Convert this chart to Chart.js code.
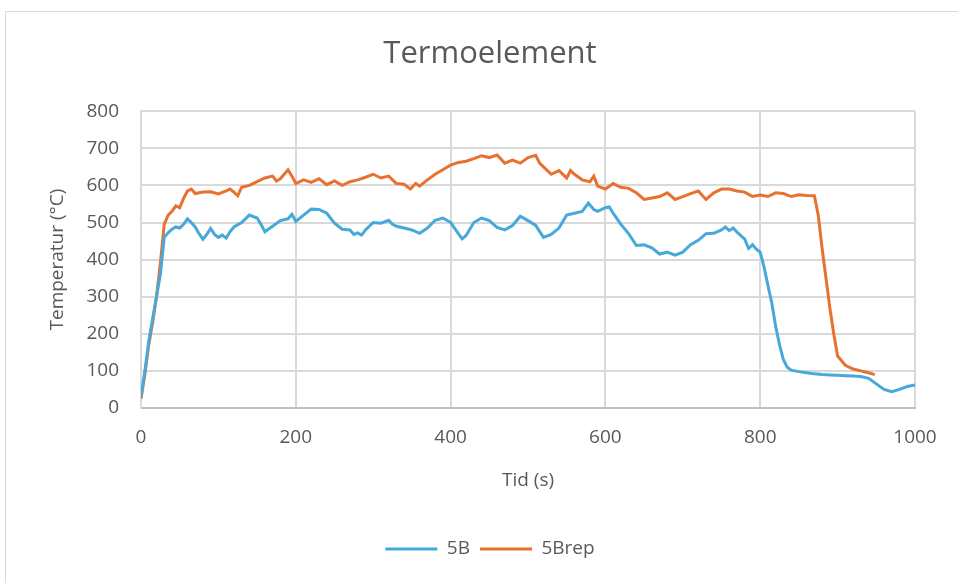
<!DOCTYPE html>
<html>
<head>
<meta charset="utf-8">
<title>Termoelement</title>
<script src="https://cdn.jsdelivr.net/npm/chart.js@4"></script>
<style>
    html, body { margin: 0; padding: 0; background: #fff; overflow: hidden; }
    .chart-frame {
        position: absolute; left: 5px; top: 11px; width: 1100px; height: 700px;
        border: 1.5px solid #d9d9d9; box-sizing: border-box;
    }
    .chart-wrap { position: absolute; left: 0; top: 0; width: 958px; height: 583px; }
</style>
</head>
<body>
<div class="chart-frame"></div>
<div class="chart-wrap"><canvas id="thermo-chart" width="958" height="583"></canvas></div>
<script>
// Time (s) and temperature (°C)
const time5B = [0, 5, 10, 15, 20, 25, 30, 35, 40, 45, 50, 55, 60, 65, 70, 75, 80, 85, 90, 95,
    100, 105, 110, 115, 120, 130, 140, 150, 155, 160, 170, 180, 190, 195, 200, 210, 220, 230, 240, 250,
    260, 270, 275, 280, 285, 290, 300, 310, 320, 325, 330, 340, 350, 360, 370, 380, 390, 400, 410, 415,
    420, 430, 440, 450, 460, 470, 480, 490, 500, 510, 520, 530, 540, 550, 560, 570, 578, 585, 590, 600,
    605, 610, 620, 630, 640, 650, 660, 670, 680, 690, 700, 710, 720, 730, 740, 750, 755, 760, 765, 770,
    780, 785, 790, 795, 800, 805, 810, 815, 820, 825, 830, 835, 840, 850, 860, 870, 880, 890, 900, 910,
    920, 930, 940, 950, 960, 970, 980, 990, 1000];
const temp5B = [30, 100, 180, 240, 300, 360, 460, 472, 482, 488, 485, 495, 510, 500, 488, 470, 455, 468, 484, 468,
    460, 466, 458, 475, 488, 500, 520, 512, 495, 475, 490, 505, 510, 522, 503, 520, 536, 535, 525, 498,
    482, 480, 468, 472, 466, 480, 500, 498, 506, 495, 490, 485, 480, 471, 485, 506, 512, 500, 470, 456,
    465, 500, 512, 505, 487, 480, 492, 517, 505, 492, 460, 468, 485, 520, 525, 530, 552, 535, 530, 540,
    542, 525, 495, 470, 438, 440, 432, 415, 420, 412, 420, 440, 452, 470, 471, 480, 488, 478, 485, 474,
    455, 430, 440, 428, 420, 380, 330, 283, 220, 170, 130, 110, 102, 98, 95, 92, 90, 89, 88, 87,
    86, 85, 80, 65, 50, 44, 50, 58, 62];

const time5Brep = [0, 5, 10, 15, 20, 25, 30, 35, 40, 45, 50, 55, 60, 65, 70, 80, 90, 100, 110, 115,
    120, 125, 130, 140, 150, 160, 170, 175, 180, 190, 195, 200, 210, 220, 230, 240, 250, 260, 270, 280,
    290, 300, 310, 320, 330, 340, 348, 355, 360, 370, 380, 390, 400, 410, 420, 430, 440, 450, 460, 470,
    480, 490, 500, 510, 515, 520, 530, 540, 550, 555, 560, 570, 580, 585, 590, 600, 610, 620, 630, 640,
    650, 660, 670, 680, 690, 700, 710, 720, 730, 740, 750, 760, 770, 780, 790, 800, 810, 820, 830, 840,
    850, 860, 870, 875, 880, 885, 890, 895, 900, 910, 920, 930, 940, 948];
const temp5Brep = [25, 90, 170, 230, 300, 390, 495, 520, 530, 545, 540, 565, 585, 590, 578, 582, 583, 577, 585, 590,
    582, 572, 595, 600, 610, 620, 625, 612, 618, 642, 625, 605, 615, 608, 618, 602, 612, 600, 610, 615,
    622, 630, 620, 625, 605, 603, 590, 605, 598, 615, 630, 642, 655, 662, 665, 672, 680, 675, 682, 660,
    668, 660, 675, 681, 660, 650, 630, 640, 620, 640, 630, 615, 610, 625, 598, 590, 605, 595, 592, 580,
    562, 566, 570, 580, 562, 570, 578, 585, 562, 580, 590, 590, 585, 582, 570, 574, 570, 580, 578, 570,
    575, 573, 572, 520, 430, 350, 270, 200, 140, 115, 105, 100, 95, 90];

const seriesLabels = ['5B', '5Brep'];
const xTicks = [0, 200, 400, 600, 800, 1000];
const yTicks = [0, 100, 200, 300, 400, 500, 600, 700, 800];

const textColor = '#595959';
const gridColor = '#d9d9d9';
const fontFamily = '"Open Sans", "Noto Sans", sans-serif';

function toPoints(xs, ys) {
    return xs.map((x, i) => ({ x: x, y: ys[i] }));
}

const ctx = document.getElementById('thermo-chart');

new Chart(ctx, {
    type: 'line',
    data: {
        datasets: [{
            label: seriesLabels[0],
            data: toPoints(time5B, temp5B),
            borderColor: '#47a8da',
            backgroundColor: '#47a8da',
            borderWidth: 3,
            pointRadius: 0,
            tension: 0
        }, {
            label: seriesLabels[1],
            data: toPoints(time5Brep, temp5Brep),
            borderColor: '#e8712f',
            backgroundColor: '#e8712f',
            borderWidth: 3,
            pointRadius: 0,
            tension: 0
        }]
    },
    options: {
        responsive: false,
        animation: false,
        layout: { padding: { left: 65, right: 43, top: 0, bottom: 14.5 } },
        plugins: {
            title: {
                display: true,
                text: 'Termoelement',
                color: textColor,
                font: { family: fontFamily, size: 31, weight: 'normal' },
                padding: { top: 36, bottom: 38 }
            },
            legend: {
                position: 'bottom',
                labels: {
                    usePointStyle: true,
                    pointStyle: 'line',
                    pointStyleWidth: 52,
                    color: textColor,
                    font: { family: fontFamily, size: 19 },
                    padding: 10
                }
            },
            tooltip: { enabled: false }
        },
        scales: {
            x: {
                type: 'linear',
                min: 0,
                max: 1000,
                afterBuildTicks: (scale) => { scale.ticks = xTicks.map(v => ({ value: v })); },
                afterFit: (scale) => { scale.height = 121.5; },
                ticks: {
                    color: textColor,
                    font: { family: fontFamily, size: 19 },
                    padding: 18,
                    maxRotation: 0,
                    callback: (value) => String(value)
                },
                grid: { color: gridColor, lineWidth: 2, drawTicks: false },
                border: { color: '#bfbfbf', width: 2 },
                title: {
                    display: true,
                    text: 'Tid (s)',
                    color: textColor,
                    font: { family: fontFamily, size: 19 },
                    padding: { top: 0, bottom: 38 }
                }
            },
            y: {
                min: 0,
                max: 800,
                afterBuildTicks: (scale) => { scale.ticks = yTicks.map(v => ({ value: v })); },
                afterFit: (scale) => { scale.width = 76; },
                ticks: {
                    color: textColor,
                    font: { family: fontFamily, size: 19 },
                    padding: 22,
                    callback: (value) => String(value)
                },
                grid: { color: gridColor, lineWidth: 2, drawTicks: false },
                border: { color: gridColor, width: 2 },
                title: {
                    display: true,
                    text: 'Temperatur (°C)',
                    color: textColor,
                    font: { family: fontFamily, size: 19 },
                    padding: { top: -18.4, bottom: 0 }
                }
            }
        }
    }
});
</script>
</body>
</html>
